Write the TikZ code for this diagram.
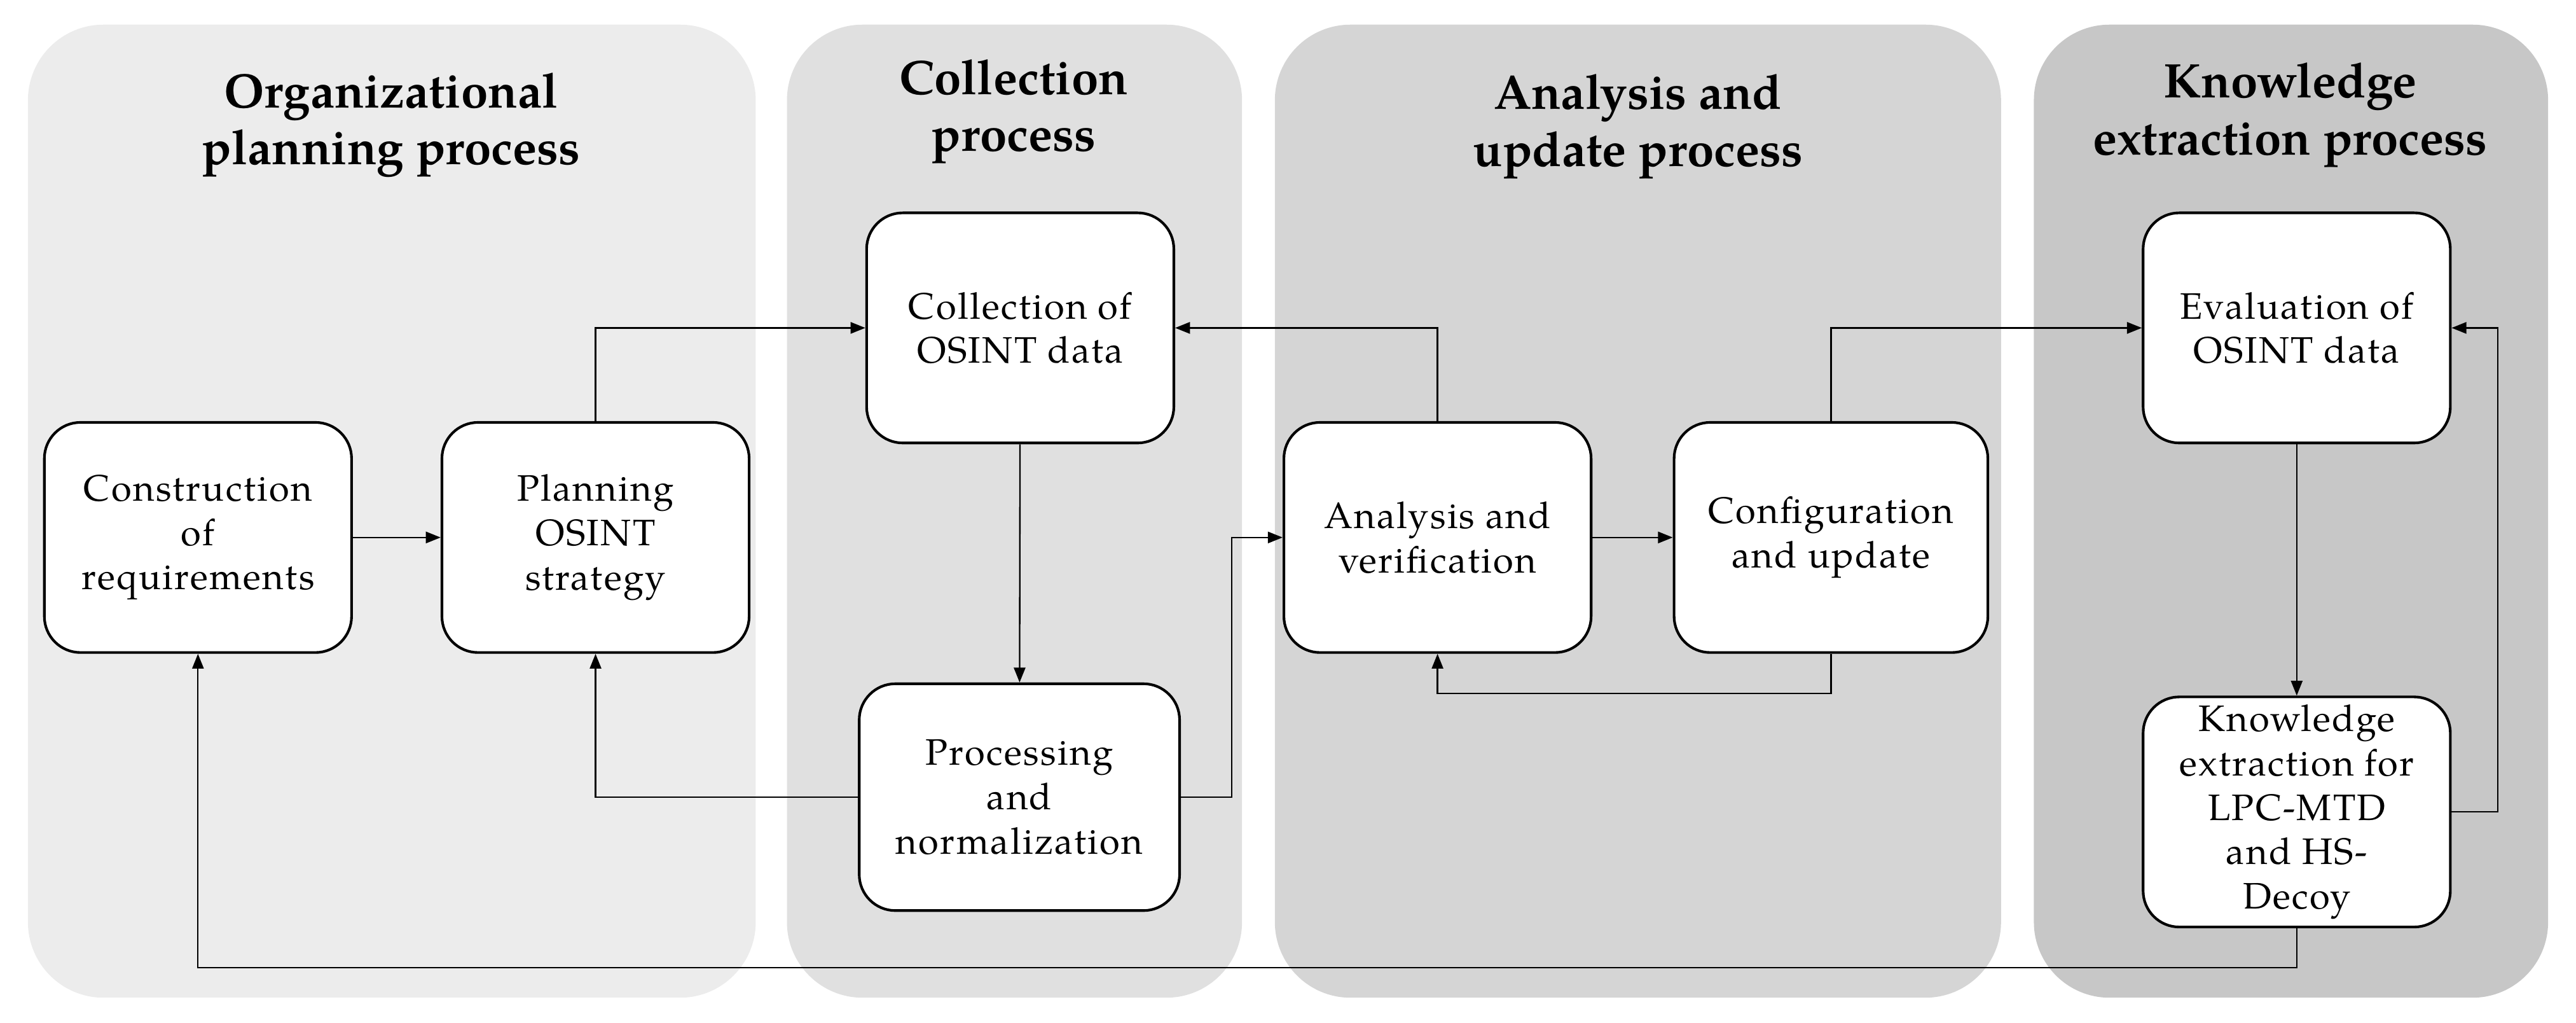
\documentclass[tikz,border=0pt]{standalone}
\usepackage{fontspec}
\setmainfont{TeX Gyre Pagella}
\newfontfamily\boxfont{TeX Gyre Pagella}[LetterSpace=4]
\usetikzlibrary{arrows.meta}
\definecolor{pa}{gray}{0.925}
\definecolor{pb}{gray}{0.88}
\definecolor{pc}{gray}{0.835}
\definecolor{pd}{gray}{0.78}
\tikzset{
  panel/.style={fill=#1, draw=none, rounded corners=46pt, inner sep=0pt},
  head/.style={font=\fontsize{29.5}{34.5}\selectfont\bfseries, align=center, inner sep=0pt},
  box/.style={draw, line width=1.6pt, fill=white, rounded corners=22pt,
    minimum width=187pt, minimum height=140pt, inner sep=0pt, align=center,
    font=\fontsize{22.4}{27}\boxfont\selectfont},
  arr/.style={line width=0.9pt, -{Triangle[length=9pt,width=7pt]}},
}
\begin{document}
\begin{tikzpicture}[x=1pt,y=-1pt]
\useasboundingbox (0,0) rectangle (1568,622.4);
% panels
\node[panel=pa, minimum width=443pt, minimum height=592pt] (p1) at (238.5,311) {};
\node[panel=pb, minimum width=277pt, minimum height=592pt] (p2) at (617.5,311) {};
\node[panel=pc, minimum width=442pt, minimum height=592pt] (p3) at (997,311) {};
\node[panel=pd, minimum width=313pt, minimum height=592pt] (p4) at (1394.5,311) {};
% headers
\node[head] (h1) at (238,76) {Organizational\\planning process};
\node[head] (h2) at (617,68) {Collection\\process};
\node[head] (h3) at (997,77) {Analysis and\\update process};
\node[head] (h4) at (1394,70) {Knowledge\\extraction process};
% boxes
\node[box] (A) at (120.5,327) {Construction\\of\\requirements};
\node[box] (B) at (362.5,327) {Planning\\OSINT\\strategy};
\node[box] (C) at (621,199.5) {Collection of\\OSINT data};
\node[box, minimum width=195pt, minimum height=138pt] (D) at (620.5,485) {Processing\\and\\normalization};
\node[box] (E) at (875,327) {Analysis and\\verification};
\node[box, minimum width=191pt] (F) at (1114.5,327) {Configuration\\and update};
\node[box] (G) at (1398,199.5) {Evaluation of\\OSINT data};
\node[box] (H) at (1398,494) {Knowledge\\extraction for\\LPC-MTD\\and HS-\\Decoy};
% connectors
\draw[arr] (A) -- (B);
\draw[arr] (B.north) |- (C.west);
\draw[arr] (C) -- (D);
\draw[arr] (D.west) -| (B.south);
\coordinate (d1) at ([xshift=31pt]D.east);
\draw[arr] (D.east) -- (d1) |- (E.west);
\draw[arr] (E.north) |- (C.east);
\draw[arr] (E) -- (F);
\coordinate (f1) at ([yshift=-24pt]F.south);
\draw[arr] (F.south) -- (f1) -| (E.south);
\draw[arr] (F.north) |- (G.west);
\draw[arr] (G) -- (H);
\coordinate (g1) at ([xshift=28pt]H.east);
\draw[arr] (H.east) -- (g1) |- (G.east);
\coordinate (k1) at ([yshift=-24pt]H.south);
\draw[arr] (H.south) -- (k1) -| (A.south);
\end{tikzpicture}
\end{document}
